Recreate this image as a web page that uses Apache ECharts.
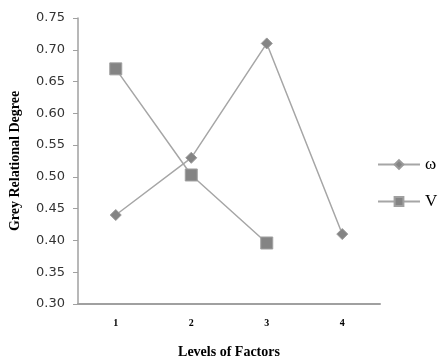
<!DOCTYPE html>
<html><head><meta charset="utf-8">
<script src="https://cdn.jsdelivr.net/npm/echarts@6/dist/echarts.min.js"></script>
<style>html,body{margin:0;padding:0;background:#fff}#c{width:442px;height:363px}</style>
</head><body><div id="c"></div>
<script>
var categories = ['1', '2', '3', '4'];
var omega = [0.44, 0.53, 0.71, 0.41];
var vValues = [0.67, 0.503, 0.396, null];
var seriesNames = ['ω', 'V'];

var chart = echarts.init(document.getElementById('c'), null, {renderer: 'canvas'});
chart.setOption({
  animation: false,
  backgroundColor: '#fff',
  grid: {left: 78, right: 62, top: 18, bottom: 59, containLabel: false, outerBoundsMode: 'none'},
  legend: {
    orient: 'vertical', left: 372, top: 151, itemGap: 20, itemWidth: 42, itemHeight: 11,
    data: seriesNames,
    textStyle: {fontFamily: 'Liberation Serif', fontSize: 17, color: '#000'}
  },
  xAxis: {
    type: 'category', data: categories, boundaryGap: true,
    name: 'Levels of Factors', nameLocation: 'middle', nameGap: 41,
    nameTextStyle: {fontFamily: 'Liberation Serif', fontWeight: 'bold', fontSize: 14, color: '#000'},
    axisLine: {lineStyle: {color: '#a0a0a0', width: 2}},
    axisTick: {show: false},
    axisLabel: {fontFamily: 'Liberation Serif', fontWeight: 'bold', fontSize: 10, color: '#000', margin: 14},
    splitLine: {show: false}
  },
  yAxis: {
    type: 'value', min: 0.30, max: 0.75, interval: 0.05,
    name: 'Grey Relational Degree', nameLocation: 'middle', nameGap: 56,
    nameTextStyle: {fontFamily: 'Liberation Serif', fontWeight: 'bold', fontSize: 14, color: '#000'},
    axisLine: {show: true, lineStyle: {color: '#a0a0a0', width: 1.5}},
    axisTick: {show: true, length: 5, lineStyle: {color: '#a0a0a0'}},
    axisLabel: {fontFamily: 'DejaVu Sans', fontSize: 13, color: '#333', margin: 13,
      formatter: function (v) { return v.toFixed(2); }},
    splitLine: {show: false}
  },
  series: [
    {
      name: seriesNames[0], type: 'line', data: omega,
      symbol: 'diamond', symbolSize: 11,
      lineStyle: {color: '#a6a6a6', width: 1.5},
      itemStyle: {color: '#848484', borderColor: '#9a9a9a', borderWidth: 1}
    },
    {
      name: seriesNames[1], type: 'line', data: vValues,
      symbol: 'rect', symbolSize: 12,
      lineStyle: {color: '#a6a6a6', width: 1.5},
      itemStyle: {color: '#848484', borderColor: '#a0a0a0', borderWidth: 1}
    }
  ]
});
</script></body></html>
